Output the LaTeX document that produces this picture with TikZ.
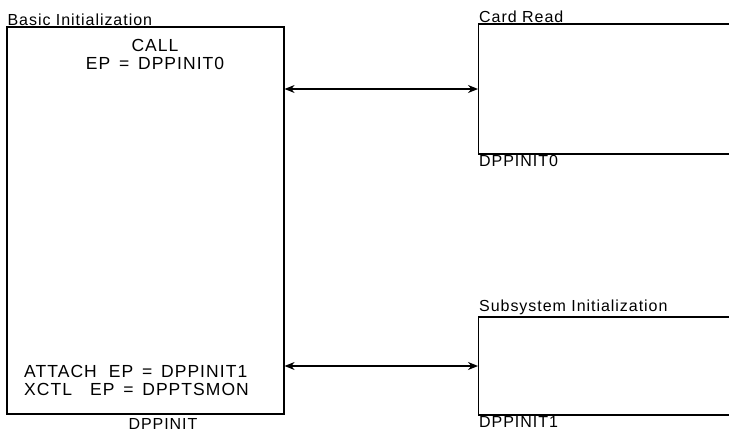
\documentclass[tikz,border=0pt]{standalone}
\usepackage{fontspec}
\setmainfont{Liberation Sans}[LetterSpace=6]
\usetikzlibrary{arrows.meta,positioning}
\tikzset{
  modbox/.style={draw, line width=1.2pt, inner sep=0pt},
  title/.style={font=\fontsize{16}{18}\selectfont, inner sep=1pt},
  body/.style={font=\fontsize{17.5}{18}\selectfont, inner sep=0pt},
  link/.style={<->, >={Stealth[length=10pt,width=8pt]}, line width=1.2pt},
}

\begin{document}
\begin{tikzpicture}[x=1pt, y=-1pt]
    \clip (0,0) rectangle (729,434);
    \fill[white] (0,0) rectangle (729,434);
    % modules
    \node[modbox, minimum width=277pt, minimum height=387pt] (dppinit) at (145.5, 220.5) {};
    \node[modbox, minimum width=300pt, minimum height=130pt, anchor=west] (dppinit0) at (478, 89) {};
    \node[modbox, minimum width=300pt, minimum height=98pt, anchor=west] (dppinit1) at (478, 366) {};
    % names above and below
    \node[title, anchor=south west] (basicinit) at (dppinit.north west) {Basic Initialization};
    \node[title, anchor=north] (dppinitname) at (163, 417) {DPPINIT};
    \node[title, anchor=south west] (cardread) at (dppinit0.north west) {Card Read};
    \node[title, anchor=north west] (dppinit0name) at (dppinit0.south west) {DPPINIT0};
    \node[title, anchor=south west] (subsysinit) at (dppinit1.north west) {Subsystem Initialization};
    \node[title, anchor=north west] (dppinit1name) at (dppinit1.south west) {DPPINIT1};
    % calls
    \node[body, align=center] (callep) at (155, 54) {CALL\\EP \,= \,DPPINIT0};
    \node[body, align=left, anchor=west] (attachep) at (24, 380)
      {ATTACH\hspace{12pt}EP \,= \,DPPINIT1\\XCTL\hspace{18pt}EP \,= \,DPPTSMON};
    % links
    \draw[link] (dppinit0.west -| dppinit.east) -- (dppinit0.west);
    \draw[link] (dppinit1.west -| dppinit.east) -- (dppinit1.west);
  \end{tikzpicture}
\end{document}
